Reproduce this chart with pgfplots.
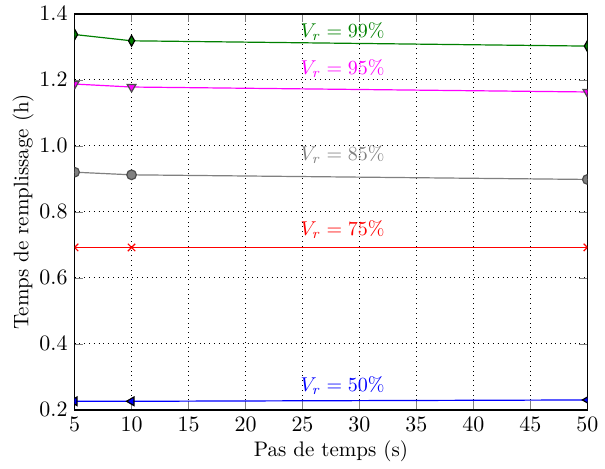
\documentclass[border=0pt]{standalone}
\usepackage{pgfplots}
\pgfplotsset{compat=1.18}
\definecolor{mgreen}{rgb}{0,0.5,0}
\definecolor{mgray}{rgb}{0.5,0.5,0.5}
\definecolor{mmag}{rgb}{1,0,1}
\definecolor{mred}{rgb}{1,0,0}
\definecolor{mblue}{rgb}{0,0,1}
\begin{document}
\begin{tikzpicture}
\begin{axis}[
  scale only axis,
  width=255bp, height=197bp,
  xmin=5, xmax=50, ymin=0.2, ymax=1.4,
  xtick={5,10,...,50},
  ytick={0.2,0.4,...,1.4},
  yticklabel style={/pgf/number format/fixed,/pgf/number format/fixed zerofill,/pgf/number format/precision=1},
  every tick label/.append style={font=\fontsize{11}{13}\selectfont},
  label style={font=\fontsize{10.5}{12}\selectfont},
  grid=major,
  major grid style={dotted, black, line width=0.5pt},
  tick align=inside,
  axis line style={line width=0.8pt},
  xlabel={Pas de temps (s)},
  ylabel={Temps de remplissage (h)},
  xlabel style={yshift=2pt},
  ylabel style={yshift=-4pt},
  clip marker paths=true,
  every axis plot/.append style={line width=0.6pt},
]
\addplot[mblue, mark=triangle*, mark size=2.5pt, mark options={rotate=90, draw=black, fill=mblue}] coordinates {(5,0.226) (10,0.226) (50,0.230)};
\addplot[mred, mark=x, mark size=2.6pt, mark options={mred}] coordinates {(5,0.692) (10,0.692) (50,0.692)};
\addplot[mgray, mark=*, mark size=2.4pt, mark options={draw=black!70, fill=mgray}] coordinates {(5,0.920) (10,0.912) (50,0.898)};
\addplot[mmag, mark=triangle*, mark size=2.5pt, mark options={rotate=180, draw=black!70, fill=mmag}] coordinates {(5,1.187) (10,1.178) (50,1.163)};
\addplot[mgreen, mark=diamond*, mark size=2.7pt, mark options={xscale=0.75, draw=black, fill=mgreen}] coordinates {(5,1.337) (10,1.318) (50,1.302)};
\node[anchor=west, text=mgreen, inner sep=0pt] at (axis cs:24.8,1.345) {$V_r = 99\%$};
\node[anchor=west, text=mmag, inner sep=0pt] at (axis cs:24.8,1.233) {$V_r = 95\%$};
\node[anchor=west, text=mgray, inner sep=0pt] at (axis cs:24.8,0.973) {$V_r = 85\%$};
\node[anchor=west, text=mred, inner sep=0pt] at (axis cs:24.8,0.745) {$V_r = 75\%$};
\node[anchor=west, text=mblue, inner sep=0pt] at (axis cs:24.8,0.273) {$V_r = 50\%$};
\end{axis}
\path (current bounding box.west) ++(-3bp,0) coordinate (padL);
\path (padL) -- (padL);
\end{tikzpicture}
\end{document}
